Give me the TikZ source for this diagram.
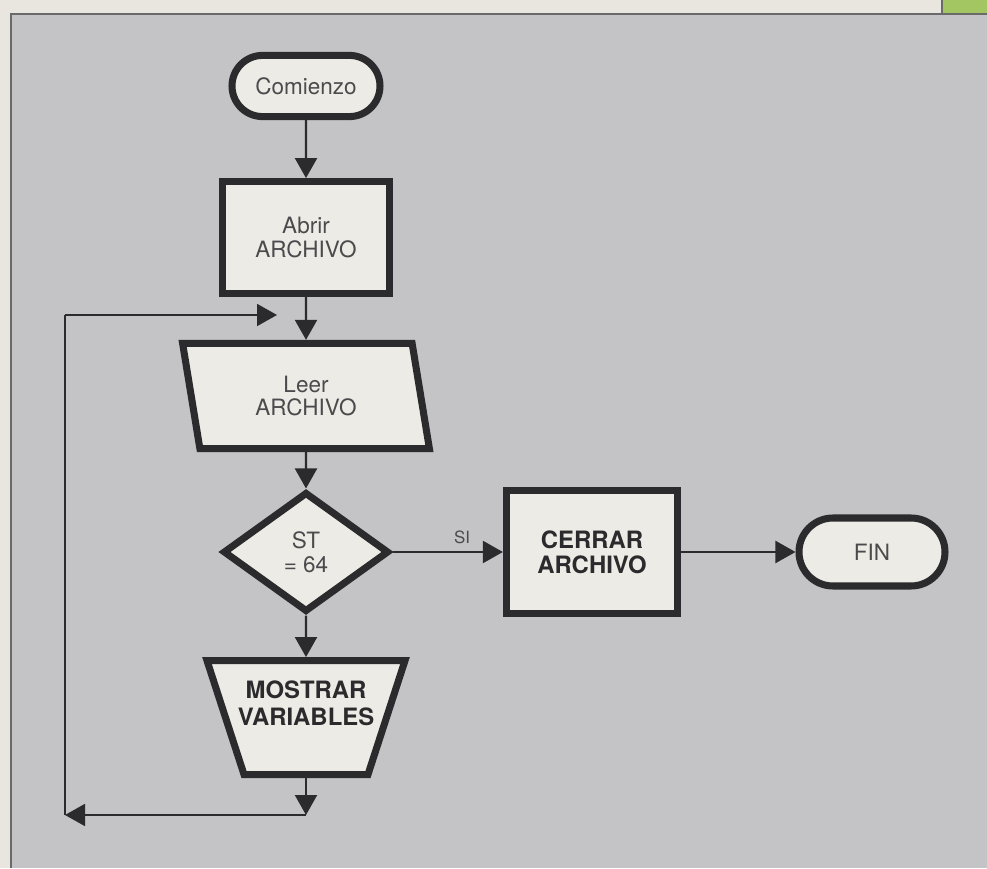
\documentclass[tikz,border=0pt]{standalone}
\usepackage{fontspec}
\setmainfont{TeX Gyre Heros}
\usetikzlibrary{arrows.meta,positioning,shapes.geometric,shapes.misc}
\definecolor{ink}{HTML}{2B2A2C}
\definecolor{paper}{HTML}{ECEBE6}
\definecolor{panel}{HTML}{C4C4C6}
\definecolor{strip}{HTML}{E9E6DF}
\definecolor{leaf}{HTML}{A3C562}

\begin{document}
\begin{tikzpicture}[node distance=4cm,on grid,auto,
		box/.style={draw=ink,line width=5pt,fill=paper,text=ink!85,align=center,inner sep=0pt,font=\fontsize{16}{17}\selectfont},
		terminal/.style={box,rounded rectangle,minimum height=1.53cm},
		process/.style={box,rectangle},
		io/.style={box,trapezium,trapezium left angle=113,trapezium right angle=67,trapezium stretches body,minimum width=6.17cm,minimum height=2.63cm},
		decision/.style={box,diamond,minimum width=4.15cm,minimum height=3cm},
		display/.style={box,trapezium,trapezium left angle=108,trapezium right angle=108,trapezium stretches body,minimum width=4.95cm},
		strong/.style={text=ink,font=\fontsize{17}{19}\selectfont\bfseries,align=center},
		flow/.style={-{Triangle[length=0.5cm,width=0.55cm]},line width=1.6pt,color=ink},
		loopline/.style={line width=1.3pt,draw=ink}]
			% background and frame
			\useasboundingbox (0,0) rectangle (24.675,21.7);
			\fill[panel] (0,0) rectangle (24.675,21.7);
			\fill[strip] (0,21.35) rectangle (24.675,21.7);
			\fill[strip] (0,0) rectangle (0.26,21.7);
			\fill[leaf] (23.55,21.35) rectangle (24.675,21.7);
			\draw[ink!70,line width=1.2pt] (0.27,0) -- (0.27,21.35) -- (24.675,21.35);
			\draw[ink!70,line width=1pt] (23.55,21.35) -- (23.55,21.7);

			% main column
			\node[terminal, minimum width=3.7cm] (comienzo) at (7.65,19.55) {Comienzo};
			\node[process, minimum width=4.18cm, minimum height=2.8cm] (abrir) [below=3.79cm of comienzo] {Abrir\\ARCHIVO};
			\node[io] (leer) [below=3.96cm of abrir] {Leer\\ARCHIVO};
			\node[decision] (test) [below=3.9cm of leer] {ST\\= 64};
			\node[display] (mostrar) [below=4.14cm of test] {\phantom{\rule{1pt}{2.85cm}}};
			\node[strong] (mostrartexto) at ([yshift=0.36cm]mostrar.center) {MOSTRAR\\VARIABLES};

			% exit branch
			\node[process, minimum width=4.28cm, minimum height=3.08cm, font=\fontsize{17}{18}\selectfont\bfseries, text=ink] (cerrar) [right=7.15cm of test] {CERRAR\\ARCHIVO};
			\node[terminal, minimum width=3.65cm, minimum height=1.7cm] (fin) [right=7cm of cerrar] {FIN};

			% loop corners
			\coordinate (loopSW) at (1.625,1.325);
			\coordinate (loopNW) at (1.625,13.825);
			\coordinate (loopNE) at (6.925,13.825);
			\coordinate (loopSE) at (mostrar.south |- loopSW);

			\path[flow]
			(comienzo) edge (abrir)
			(abrir) edge (leer)
			(leer) edge (test)
			(test) edge (mostrar)
			(test) edge node[pos=0.63, inner sep=5pt, text=ink!85, font=\fontsize{12}{14}\selectfont] {SI} (cerrar)
			(cerrar) edge (fin)
			(mostrar) edge (loopSE);
			\draw[loopline] (loopNW) -- (loopSW);
			\path[flow, line width=1.3pt]
			(loopSE) edge (loopSW)
			(loopNW) edge (loopNE);
		\end{tikzpicture}
\end{document}
